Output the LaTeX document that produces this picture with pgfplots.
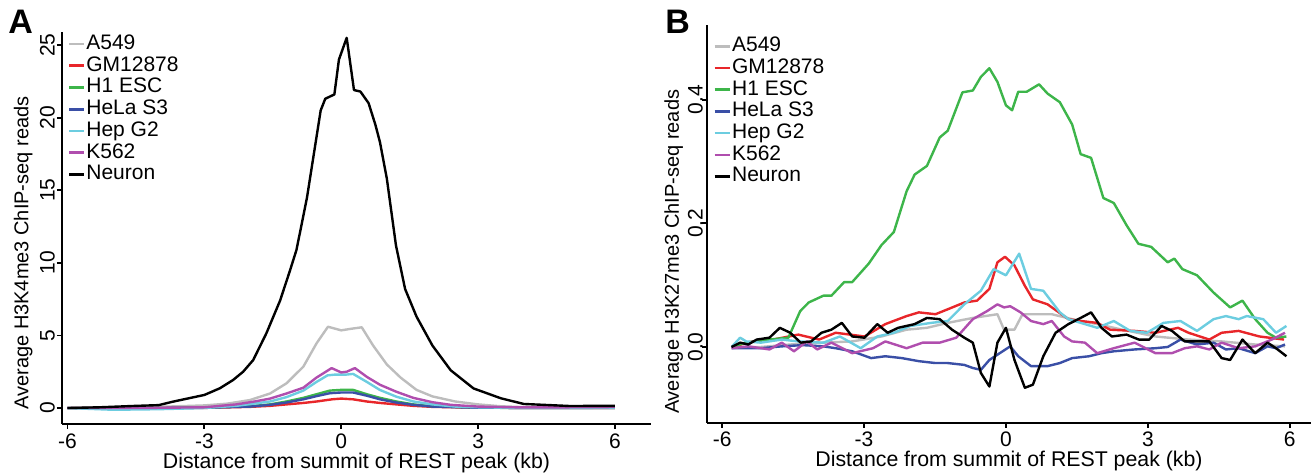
\documentclass[border=0pt]{standalone}
\usepackage{fontspec}
\setmainfont{Liberation Sans}
\usepackage{pgfplots}
\pgfplotsset{compat=1.18}

\definecolor{cA}{HTML}{BDBDBD}
\definecolor{cGM}{HTML}{E8262A}
\definecolor{cH1}{HTML}{3DB54A}
\definecolor{cHe}{HTML}{3A4FA6}
\definecolor{cHep}{HTML}{6CCDE0}
\definecolor{cK}{HTML}{B04EAE}

\pgfplotsset{
  panel/.style={
    scale only axis,
    axis lines=left,
    axis line style={-, line width=1.3pt},
    tick align=outside,
    major tick length=2.5pt,
    tick style={line width=0.9pt, black},
    xtick={-6,-3,0,3,6},
    /pgf/number format/assume math mode=true,
    ticklabel style={font=\fontsize{10.5}{12}\selectfont},
    xlabel style={font=\fontsize{10.65}{13}\selectfont, inner sep=0pt, anchor=center},
    ylabel style={font=\fontsize{10}{12}\selectfont, inner sep=0pt, anchor=center},
    yticklabel style={rotate=90, anchor=south},
    xticklabel style={anchor=north, inner sep=0pt},
    xlabel={Distance from summit of REST peak (kb)},
    every axis plot/.append style={line width=1.2pt, line join=round},
    legend cell align=left,
    legend image code/.code={\draw[#1, line width=1.3pt] (0pt,0pt) -- (7.5pt,0pt);},
    legend style={draw=none, fill=none, inner sep=0pt, row sep=0pt,
      font=\fontsize{10.5}{12}\selectfont,
      nodes={inner sep=0.53pt, text height=7.6pt, text depth=2.2pt}},
  },
}

\begin{document}
\begin{tikzpicture}
\useasboundingbox (0,0) rectangle (655.5pt,-237pt);
\node[anchor=north west, inner sep=0pt, font=\bfseries\fontsize{17}{19}\selectfont] at (4pt,-5pt) {A};
\node[anchor=north west, inner sep=0pt, font=\bfseries\fontsize{17}{19}\selectfont] at (332.5pt,-5pt) {B};

% panel A: H3K4me3
\begin{axis}[panel,
  at={(31pt,-212pt)}, anchor=south west,
  width=294.5pt, height=196pt,
  xmin=-6.12, xmax=6.79, ymin=-1.1, ymax=25.9,
  ytick={0,5,10,15,20,25},
  ylabel={Average H3K4me3 ChIP-seq reads},
  ylabel style={at={(axis description cs:-0.066,0.436)}},
  xlabel style={at={(axis description cs:0.5,-0.1)}},
  yticklabel style={yshift=-2.5pt},
  xticklabel style={yshift=-2pt},
  legend style={at={(axis description cs:0.009,0.998)}, anchor=north west},
]
\addplot[cA] coordinates {(-6,0) (-5,0.03) (-4,0.08) (-3,0.18) (-2.5,0.3) (-2,0.55) (-1.56,1.0) (-1.2,1.7) (-0.83,2.85) (-0.54,4.46) (-0.29,5.6) (0,5.35) (0.2,5.45) (0.45,5.56) (0.7,4.3) (1.0,3.0) (1.3,2.1) (1.65,1.25) (2.0,0.8) (2.5,0.45) (3,0.25) (3.5,0.12) (4,0.06) (5,0.03) (6,0.05)};
\addplot[cGM] coordinates {(-6,0) (-4,0) (-3,0.01) (-2,0.08) (-1.56,0.15) (-1.2,0.25) (-0.83,0.35) (-0.54,0.45) (-0.2,0.6) (0,0.65) (0.26,0.6) (0.56,0.45) (0.85,0.35) (1.21,0.25) (1.58,0.15) (2,0.08) (3,0.02) (6,0)};
\addplot[cH1] coordinates {(-6,0) (-4,0) (-3,0.03) (-2,0.12) (-1.56,0.25) (-1.2,0.45) (-0.83,0.7) (-0.54,0.95) (-0.25,1.2) (0,1.25) (0.26,1.25) (0.56,0.95) (0.85,0.7) (1.21,0.45) (1.58,0.25) (2,0.12) (3,0.03) (4,0) (6,0)};
\addplot[cHe] coordinates {(-6,0) (-4,0) (-3,0.02) (-2,0.1) (-1.56,0.22) (-1.2,0.38) (-0.83,0.6) (-0.54,0.82) (-0.25,1.02) (0,1.07) (0.26,1.07) (0.56,0.85) (0.85,0.6) (1.21,0.38) (1.58,0.22) (2,0.1) (3,0.02) (6,0)};
\addplot[cHep] coordinates {(-6,0) (-5,-0.12) (-4,-0.08) (-3,0.0) (-2.3,0.15) (-1.56,0.45) (-1.2,0.75) (-0.83,1.2) (-0.54,1.8) (-0.3,2.25) (-0.14,2.3) (0.1,2.3) (0.26,2.35) (0.56,1.8) (0.85,1.24) (1.21,0.78) (1.58,0.45) (2,0.25) (2.5,0.1) (3,0.05) (4,0) (5,0) (6,0.03)};
\addplot[cK] coordinates {(-6,0) (-4.5,0) (-3,0.05) (-2.3,0.25) (-1.9,0.45) (-1.56,0.65) (-1.2,1.0) (-0.83,1.4) (-0.54,2.1) (-0.21,2.75) (0,2.45) (0.12,2.5) (0.3,2.75) (0.56,2.15) (0.85,1.6) (1.21,1.12) (1.58,0.7) (2.0,0.4) (2.4,0.22) (3,0.1) (3.8,0.05) (5,0.05) (6,0.07)};
\addplot[black] coordinates {(-6,0) (-5.3,0.05) (-4.57,0.14) (-4,0.2) (-3.7,0.43) (-3.3,0.7) (-3,0.9) (-2.66,1.36) (-2.37,1.93) (-2.15,2.5) (-1.93,3.3) (-1.64,5.15) (-1.34,7.4) (-1.12,9.5) (-0.98,10.9) (-0.75,14.5) (-0.6,17.5) (-0.45,20.5) (-0.35,21.3) (-0.15,21.6) (-0.05,24.0) (0.12,25.5) (0.28,21.9) (0.42,21.8) (0.6,21.0) (0.75,19.5) (0.85,18.3) (1.0,15.8) (1.2,11.2) (1.4,8.2) (1.65,6.3) (2.0,4.3) (2.4,2.6) (2.9,1.35) (3.5,0.67) (4.0,0.28) (5,0.14) (6,0.15)};
\legend{A549,GM12878,H1 ESC,HeLa S3,Hep G2,K562,Neuron}
\end{axis}

% panel B: H3K27me3
\begin{axis}[panel,
  at={(353.5pt,-211.5pt)}, anchor=south west,
  width=302pt, height=199pt,
  xmin=-6.32, xmax=6.45, ymin=-0.123, ymax=0.521,
  ytick={0,0.2,0.4},
  yticklabel style={/pgf/number format/.cd, fixed, fixed zerofill, precision=1, /tikz/.cd, yshift=-4pt},
  ylabel={Average H3K27me3 ChIP-seq reads},
  ylabel style={at={(axis description cs:-0.055,0.43)}},
  xlabel style={at={(axis description cs:0.5,-0.095)}},
  xticklabel style={yshift=-1.5pt},
  legend style={at={(axis description cs:0.01,0.975)}, anchor=north west},
]
\addplot[cA] coordinates {(-5.8,0) (-5.18,0) (-4.56,0.004) (-3.86,0.007) (-3.25,0.009) (-2.63,0.017) (-2.1,0.028) (-1.67,0.031) (-1.23,0.039) (-0.7,0.047) (-0.44,0.05) (-0.18,0.053) (-0.04,0.028) (0.18,0.028) (0.35,0.053) (0.97,0.053) (1.4,0.045) (1.93,0.037) (2.46,0.028) (3.16,0.017) (3.86,0.012) (4.56,0.009) (5.27,0.004) (5.9,0.001)};
\addplot[cGM] coordinates {(-5.8,0) (-5.36,0.009) (-4.92,0.012) (-4.39,0.02) (-3.95,0.012) (-3.6,0.023) (-2.99,0.017) (-2.55,0.037) (-2.1,0.05) (-1.84,0.056) (-1.49,0.053) (-1.23,0.061) (-0.88,0.072) (-0.61,0.075) (-0.35,0.094) (-0.18,0.137) (-0.02,0.146) (0.18,0.132) (0.4,0.099) (0.57,0.077) (0.88,0.069) (1.32,0.045) (1.58,0.042) (1.93,0.039) (2.2,0.028) (2.72,0.026) (3.16,0.023) (3.64,0.031) (3.86,0.023) (4.3,0.012) (4.56,0.023) (4.92,0.026) (5.36,0.017) (5.88,0.012)};
\addplot[cH1] coordinates {(-5.8,0.0) (-5.5,0.007) (-5.0,0.012) (-4.6,0.015) (-4.35,0.058) (-4.17,0.072) (-3.86,0.083) (-3.69,0.083) (-3.42,0.105) (-3.25,0.105) (-2.9,0.135) (-2.63,0.165) (-2.37,0.186) (-2.1,0.252) (-1.93,0.279) (-1.67,0.293) (-1.40,0.339) (-1.23,0.35) (-0.92,0.412) (-0.7,0.415) (-0.53,0.437) (-0.35,0.451) (-0.18,0.429) (0,0.391) (0.13,0.383) (0.26,0.413) (0.44,0.413) (0.70,0.425) (0.88,0.41) (1.14,0.396) (1.40,0.36) (1.58,0.312) (1.8,0.306) (2.06,0.241) (2.28,0.233) (2.55,0.197) (2.8,0.167) (3.07,0.162) (3.42,0.137) (3.56,0.143) (3.73,0.126) (4.04,0.116) (4.39,0.088) (4.74,0.064) (5.0,0.075) (5.27,0.045) (5.53,0.023) (5.71,0.015) (5.93,0.017)};
\addplot[cHe] coordinates {(-5.8,-0.002) (-5.18,-0.002) (-4.74,0.001) (-4.3,0.003) (-3.86,0.001) (-3.6,-0.002) (-3.25,-0.007) (-2.85,-0.018) (-2.55,-0.015) (-2.2,-0.018) (-1.84,-0.023) (-1.49,-0.026) (-1.23,-0.026) (-0.88,-0.029) (-0.7,-0.034) (-0.53,-0.037) (-0.35,-0.021) (-0.13,-0.01) (0.09,0.001) (0.26,-0.015) (0.53,-0.031) (0.88,-0.031) (1.14,-0.026) (1.4,-0.018) (1.76,-0.015) (2.02,-0.01) (2.28,-0.007) (2.72,-0.004) (3.16,-0.002) (3.42,0) (3.69,0.012) (4.04,0.004) (4.39,0.007) (4.65,-0.004) (4.92,-0.002) (5.27,-0.01) (5.53,0.001) (5.71,-0.002) (5.9,0.004)};
\addplot[cHep] coordinates {(-5.8,0) (-5.62,0.015) (-5.49,0.009) (-5.18,0.007) (-4.74,0.012) (-4.39,0.009) (-3.86,0.007) (-3.51,0.017) (-3.07,-0.002) (-2.72,0.017) (-2.37,0.023) (-2.02,0.034) (-1.58,0.039) (-1.23,0.042) (-0.88,0.069) (-0.53,0.091) (-0.26,0.126) (0,0.116) (0.28,0.151) (0.53,0.094) (0.79,0.091) (1.14,0.056) (1.32,0.045) (1.67,0.037) (1.93,0.031) (2.28,0.042) (2.63,0.026) (2.98,0.023) (3.33,0.039) (3.69,0.042) (4.04,0.026) (4.39,0.045) (4.65,0.05) (4.92,0.045) (5.09,0.05) (5.44,0.045) (5.71,0.023) (5.93,0.034)};
\addplot[cK] coordinates {(-5.8,-0.002) (-5.44,0.001) (-5.0,-0.004) (-4.74,0.007) (-4.48,-0.007) (-4.21,0.009) (-3.99,-0.004) (-3.69,0.007) (-3.25,-0.01) (-2.81,-0.002) (-2.55,0.009) (-2.1,-0.002) (-1.76,0.007) (-1.4,0.007) (-1.05,0.015) (-0.7,0.045) (-0.4,0.058) (-0.18,0.069) (-0.04,0.064) (0.09,0.066) (0.31,0.056) (0.53,0.042) (0.79,0.037) (0.97,0.042) (1.23,0.017) (1.4,0.009) (1.67,0.007) (1.93,-0.01) (2.28,-0.002) (2.72,0.007) (3.16,-0.01) (3.51,-0.01) (3.78,-0.002) (4.04,0.001) (4.3,-0.004) (4.56,0.007) (4.92,-0.002) (5.27,0.001) (5.62,0.012) (5.9,0.023)};
\addplot[black] coordinates {(-5.8,0) (-5.62,0.007) (-5.45,0.004) (-5.27,0.012) (-5.0,0.015) (-4.78,0.031) (-4.56,0.023) (-4.34,0.007) (-4.12,0.009) (-3.9,0.023) (-3.69,0.028) (-3.47,0.039) (-3.25,0.017) (-2.99,0.015) (-2.72,0.037) (-2.5,0.023) (-2.28,0.031) (-1.93,0.037) (-1.67,0.047) (-1.4,0.045) (-1.14,0.028) (-0.88,0.015) (-0.7,0.007) (-0.53,-0.042) (-0.35,-0.064) (-0.18,0.007) (0,0.031) (0.18,-0.021) (0.4,-0.066) (0.57,-0.061) (0.79,-0.015) (1.05,0.023) (1.32,0.037) (1.58,0.047) (1.8,0.056) (2.02,0.031) (2.24,0.017) (2.55,0.02) (2.81,0.012) (3.03,0.012) (3.29,0.034) (3.51,0.026) (3.78,0.009) (4.04,0.009) (4.3,0.009) (4.56,-0.018) (4.74,-0.021) (5.0,0.012) (5.27,-0.01) (5.53,0.007) (5.71,-0.002) (5.93,-0.015)};
\legend{A549,GM12878,H1 ESC,HeLa S3,Hep G2,K562,Neuron}
\end{axis}
\end{tikzpicture}
\end{document}
